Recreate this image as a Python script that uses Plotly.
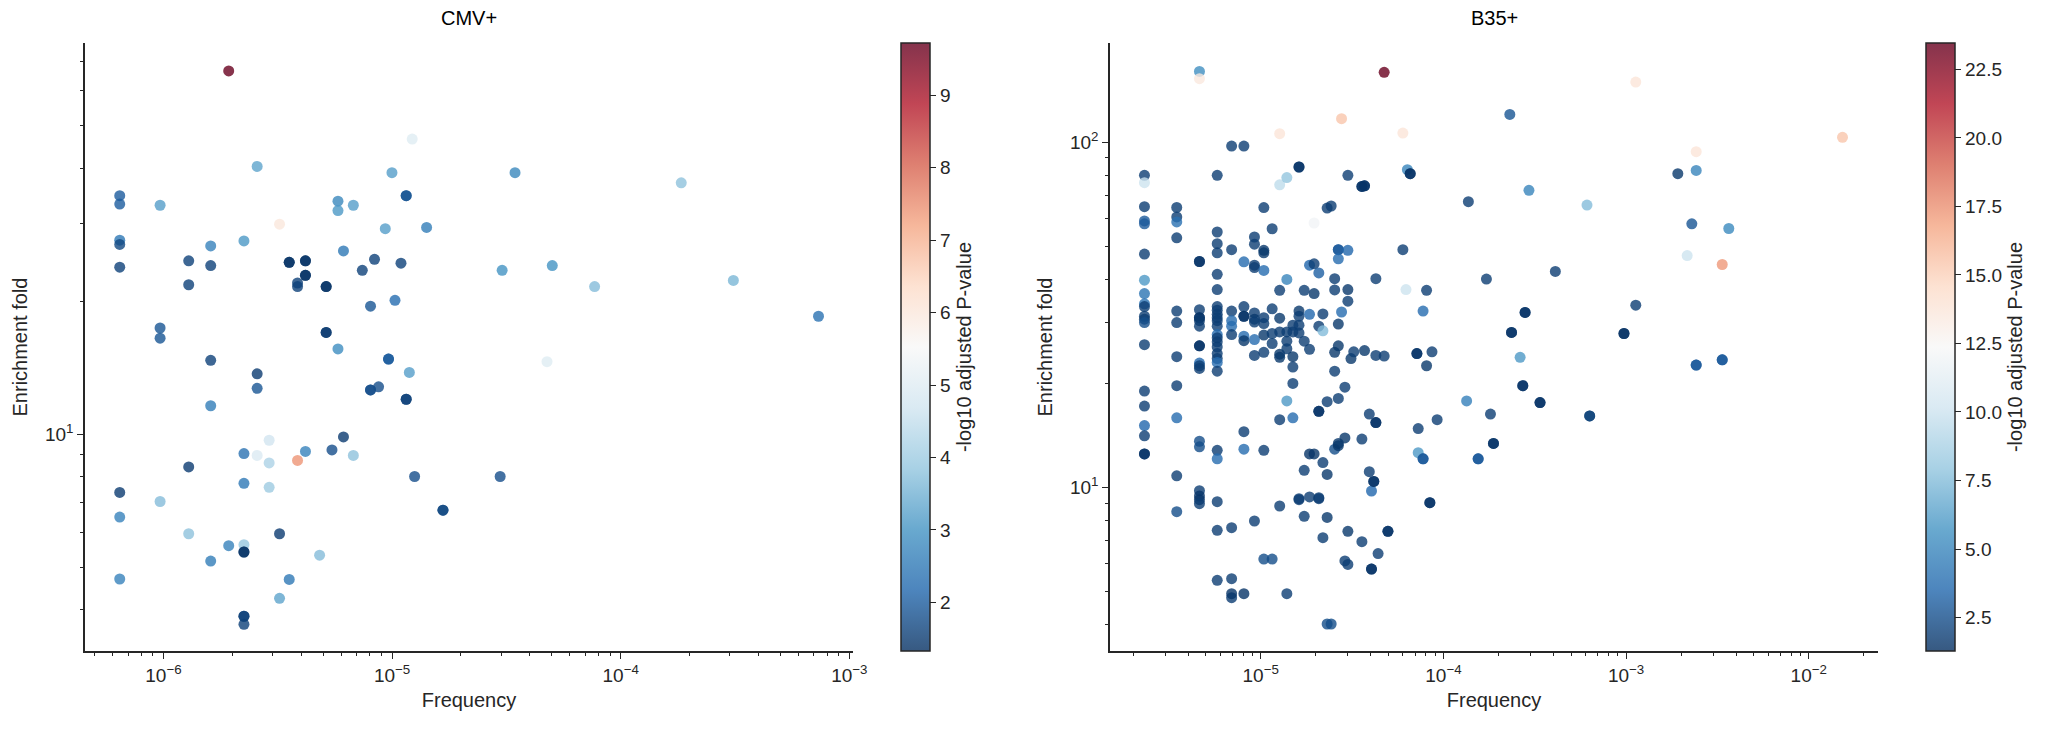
import plotly.graph_objects as go

# ---------------- CMV+ panel data ----------------
cmv_freq = [
    1.93e-6, 1.225e-5, 2.57e-6, 9.99e-6, 6.44e-7, 6.44e-7, 9.67e-7, 1.153e-5, 1.153e-5, 5.80e-6,
    5.80e-6, 6.77e-6, 3.22e-6, 9.34e-6, 1.416e-5, 6.44e-7, 6.44e-7, 2.25e-6, 1.61e-6, 6.13e-6,
    6.44e-7, 1.29e-6, 1.61e-6, 3.55e-6, 3.55e-6, 4.18e-6, 4.18e-6, 4.18e-6, 4.18e-6, 8.38e-6,
    7.41e-6, 1.094e-5, 1.29e-6, 3.86e-6, 3.86e-6, 5.15e-6, 5.15e-6, 8.05e-6, 1.03e-5, 9.67e-7,
    9.67e-7, 5.15e-6, 5.15e-6, 5.80e-6, 9.65e-6, 9.65e-6, 1.61e-6, 2.57e-6, 1.19e-5, 3.45e-5,
    1.84e-4, 3.03e-5, 5.02e-5, 7.69e-5, 3.11e-4, 7.33e-4, 4.76e-5, 2.57e-6, 1.61e-6, 8.05e-6,
    8.05e-6, 8.73e-6, 1.153e-5, 1.153e-5, 6.13e-6, 2.90e-6, 4.18e-6, 5.46e-6, 2.25e-6, 2.57e-6,
    3.86e-6, 6.77e-6, 2.90e-6, 1.29e-6, 1.255e-5, 2.25e-6, 2.90e-6, 6.44e-7, 9.67e-7, 1.67e-5,
    1.67e-5, 6.44e-7, 1.29e-6, 3.22e-6, 1.93e-6, 2.25e-6, 2.25e-6, 2.25e-6, 1.61e-6, 4.82e-6,
    6.44e-7, 3.55e-6, 3.22e-6, 2.25e-6, 2.25e-6, 2.25e-6, 2.97e-5,
]
cmv_fold = [
    66.5, 46.6, 40.4, 39.1, 34.7, 33.2, 33.0, 34.7, 34.7, 33.7,
    32.1, 33.0, 29.9, 29.2, 29.4, 27.5, 26.9, 27.4, 26.7, 26.0,
    23.9, 24.7, 24.1, 24.5, 24.5, 24.7, 24.7, 22.9, 22.9, 24.9,
    23.5, 24.4, 21.8, 22.0, 21.6, 21.6, 21.6, 19.5, 20.1, 17.4,
    16.5, 17.0, 17.0, 15.6, 14.8, 14.8, 14.7, 13.7, 13.8, 39.1,
    37.1, 23.5, 24.1, 21.6, 22.3, 18.5, 14.6, 12.7, 11.6, 12.6,
    12.6, 12.8, 12.0, 12.0, 9.86, 9.69, 9.14, 9.21, 9.04, 8.95,
    8.72, 8.95, 8.61, 8.43, 8.02, 7.74, 7.58, 7.38, 7.04, 6.73,
    6.73, 6.49, 5.95, 5.95, 5.59, 5.62, 5.41, 5.41, 5.16, 5.32,
    4.70, 4.69, 4.25, 3.87, 3.87, 3.71, 8.02,
]
cmv_logp = [
    9.7, 5.0, 3.3, 3.2, 2.0, 2.0, 3.2, 1.9, 1.9, 2.8,
    3.1, 3.2, 6.0, 3.2, 2.6, 2.5, 1.7, 3.1, 2.7, 2.5,
    1.6, 1.6, 1.6, 1.4, 1.4, 1.4, 1.4, 1.4, 1.4, 1.6,
    1.6, 1.6, 1.6, 1.6, 1.6, 1.4, 1.4, 1.9, 2.3, 1.9,
    1.9, 1.5, 1.5, 2.9, 2.0, 2.0, 1.6, 1.5, 3.2, 2.8,
    3.8, 3.0, 3.0, 3.7, 3.6, 2.4, 5.0, 1.9, 2.6, 1.8,
    1.8, 1.8, 1.6, 1.6, 1.5, 4.7, 2.7, 1.8, 2.4, 4.9,
    7.4, 3.8, 4.2, 1.5, 1.8, 2.5, 4.0, 1.5, 3.7, 1.7,
    1.7, 2.7, 3.8, 1.5, 2.7, 3.9, 1.4, 1.4, 2.6, 3.7,
    2.7, 2.5, 3.3, 1.6, 1.6, 1.6, 1.8,
]

# ---------------- B35+ panel data ----------------
b35_freq = (
    [2.31e-6] * 20
    + [3.47e-6] * 11
    + [4.62e-6] * 20
    + [5.78e-6] * 25
    + [6.93e-6] * 10
    + [8.09e-6] * 10
    + [9.24e-6] * 10
    + [1.04e-5] * 10
    + [1.155e-5] * 5
    + [1.27e-5] * 9
    + [1.39e-5] * 7
    + [1.50e-5] * 6
    + [1.62e-5] * 8
    + [1.73e-5] * 4
    + [1.85e-5] * 5
    + [1.96e-5] * 4
    + [2.08e-5] * 6
    + [2.19e-5] * 4
    + [2.31e-5] * 5
    + [2.43e-5] * 2
    + [2.54e-5] * 5
    + [2.66e-5] * 8
    + [2.77e-5] * 2
    + [2.89e-5] * 3
    + [3.00e-5] * 6
    + [3.12e-5, 3.23e-5]
    + [3.58e-5] * 4
    + [3.70e-5] * 3
    + [3.93e-5] * 2
    + [4.04e-5] * 3
    + [4.16e-5] * 2
    + [4.27e-5] * 4
    + [4.39e-5]
    + [4.74e-5] * 2
    + [4.97e-5] * 2
    + [6.00e-5, 6.00e-5, 6.24e-5, 6.35e-5, 6.58e-5, 6.58e-5, 7.16e-5, 7.16e-5, 7.28e-5, 7.28e-5,
       7.74e-5, 7.74e-5, 7.74e-5, 8.09e-5, 8.09e-5, 8.43e-5, 8.43e-5, 8.66e-5, 9.24e-5,
       1.34e-4, 1.37e-4, 1.55e-4, 1.55e-4, 1.72e-4, 1.81e-4, 1.88e-4, 1.88e-4,
       2.31e-4, 2.36e-4, 2.36e-4, 2.63e-4, 2.72e-4, 2.72e-4, 2.80e-4, 2.80e-4, 2.94e-4,
       3.38e-4, 3.38e-4, 4.10e-4, 6.11e-4, 6.32e-4, 6.32e-4, 9.74e-4, 9.74e-4,
       1.13e-3, 1.13e-3, 1.92e-3, 2.16e-3, 2.29e-3, 2.42e-3, 2.42e-3, 2.42e-3, 2.42e-3,
       3.36e-3, 3.36e-3, 3.36e-3, 3.65e-3, 1.53e-2]
)
b35_fold = [
    80.1, 76.3, 65.0, 59.1, 58.0, 47.4, 39.8, 36.4, 34.0, 33.4,
    31.3, 30.7, 30.0, 25.9, 19.0, 17.2, 15.1, 14.1, 12.5, 12.5,
    8.50, 64.7, 60.7, 58.7, 52.8, 32.4, 30.0, 23.9, 19.7, 15.9, 10.8,
    9.78, 160.2, 152.6, 45.1, 45.1, 32.7, 31.0, 31.0, 30.4, 29.3,
    25.7, 25.7, 22.9, 22.5, 22.1, 13.6, 13.1, 9.44, 9.21, 8.97,
    5.38, 80.1, 54.9, 50.8, 47.8, 41.4, 37.4, 33.4, 32.6, 31.7,
    31.0, 30.4, 29.3, 27.7, 27.1, 26.4, 25.5, 24.4, 23.6, 23.0,
    21.7, 12.8, 12.1, 9.09, 7.51,
    4.79, 97.4, 48.8, 32.4, 30.4, 29.3, 27.7, 7.64, 5.44, 4.92,
    4.92, 97.4, 45.0, 33.4, 31.3, 31.3, 27.4, 26.6, 14.5, 12.9,
    7.99, 53.1, 50.6, 44.0, 43.3, 32.0, 30.7, 30.1, 26.8, 24.1,
    12.8, 64.6, 48.6, 47.8, 42.5, 31.0, 29.8, 27.6, 24.6, 6.20,
    6.20, 56.1, 32.9, 27.9, 26.1,
    15.7, 105.8, 75.2, 37.2, 30.9, 28.2, 24.3, 23.8, 8.83,
    4.92, 78.9, 40.0, 28.2, 26.5, 25.2, 17.8,
    15.9, 29.5, 28.2, 23.9, 22.3, 20.0,
    9.27, 84.7, 84.7, 32.4, 31.3, 29.5, 28.0, 9.21,
    8.24, 37.2, 26.5, 11.2,
    9.38, 44.0, 31.7, 25.1, 12.5,
    12.5, 58.3, 44.4, 36.4,
    9.27, 41.8, 29.3, 16.6, 16.6, 9.33,
    7.15, 31.8, 28.4, 11.8,
    8.18, 64.4, 17.7, 10.9, 4.02,
    4.02, 65.3,
    12.9, 40.2, 37.3, 24.6, 21.7,
    13.2, 48.8, 48.8, 45.9, 29.7, 25.7, 18.1, 13.4,
    116.9, 32.2,
    19.5, 13.9, 6.12,
    80.1, 48.6, 37.4, 34.6, 7.46, 5.98,
    23.6, 24.7,
    74.4, 74.4, 13.8, 6.96,
    74.7, 74.7, 24.9,
    16.3, 11.1,
    9.76, 5.80, 5.80,
    10.4, 10.4,
    40.2, 24.1, 15.4, 15.4,
    6.43,
    159.2, 24.0,
    7.46, 7.46,
    106.2, 48.8, 37.4, 83.2, 81.0, 81.0, 24.4, 24.4, 14.8, 12.6,
    32.4, 12.1, 12.1, 37.2, 22.5, 9.03, 9.03, 24.7, 15.7,
    17.8, 67.2, 12.1, 12.1, 40.1, 16.3, 13.4, 13.4,
    120.3, 28.1, 28.1, 23.8, 19.7, 19.7, 32.1, 32.1, 72.5,
    17.6, 17.6, 42.2, 65.7, 16.1, 16.1, 27.9, 27.9,
    149.2, 33.7, 81.0, 46.9, 58.0, 93.8, 82.8, 22.6, 22.6,
    44.2, 23.4, 23.4, 56.2, 103.2,
]
b35_logp = [
    1.8, 10.0, 1.8, 3.0, 3.0, 1.8, 6.0, 4.2, 4.0, 1.8,
    1.8, 1.8, 2.5, 1.8, 1.8, 1.8, 3.5, 1.8, 1.5, 1.5,
    2.5, 1.8, 1.8, 4.0, 1.8, 1.8, 1.8, 1.8, 1.8, 3.8, 1.8,
    1.8, 5.5, 13.5, 1.5, 1.5, 1.8, 1.5, 1.5, 1.6, 1.8,
    1.5, 1.5, 3.5, 1.8, 1.8, 2.5, 2.5, 1.5, 1.5, 1.8,
    1.8, 1.8, 1.8, 1.8, 1.8, 1.8, 1.8, 1.8, 1.8, 1.8,
    1.8, 1.8, 1.8, 3.8, 1.8, 1.8, 1.8, 1.8, 1.8, 3.8,
    1.8, 1.8, 3.8, 1.8, 1.8,
    1.8, 1.8, 1.8, 1.8, 3.8, 3.8, 1.8, 1.8, 1.8, 1.5,
    1.5, 1.8, 3.8, 1.8, 1.5, 1.5, 3.8, 1.6, 1.8, 3.8,
    1.8, 1.8, 1.8, 1.8, 1.8, 1.8, 1.6, 1.8, 3.8, 1.8,
    1.8, 1.8, 1.6, 1.6, 3.8, 1.8, 1.8, 1.6, 1.8, 2.5,
    2.5, 1.8, 1.8, 1.8, 1.8,
    1.8, 13.8, 9.5, 1.8, 1.6, 1.8, 1.6, 1.6, 1.8,
    1.8, 8.0, 5.0, 1.8, 1.8, 1.8, 6.0,
    3.8, 1.8, 1.8, 1.6, 1.8, 1.8,
    1.8, 1.5, 1.5, 1.6, 1.8, 1.8, 1.8, 1.8,
    1.8, 1.8, 1.8, 1.8,
    1.8, 3.5, 3.5, 1.8, 1.5,
    1.5, 12.0, 1.8, 1.6,
    1.8, 3.2, 1.8, 1.5, 1.5, 1.8,
    1.8, 1.8, 7.5, 1.8,
    1.6, 1.8, 1.8, 1.6, 2.5,
    2.5, 1.8,
    2.5, 1.8, 1.8, 1.6, 1.8,
    1.6, 3.0, 3.0, 3.8, 1.6, 1.6, 1.8, 1.6,
    15.5, 3.8,
    1.8, 1.6, 1.8,
    1.8, 3.5, 1.6, 1.8, 1.6, 1.8,
    1.6, 1.8,
    1.5, 1.5, 1.8, 1.8,
    1.5, 1.5, 1.6,
    1.8, 1.8,
    3.5, 1.5, 1.5,
    1.5, 1.5,
    1.8, 1.8, 1.5, 1.5,
    1.8,
    23.4, 1.8,
    1.5, 1.5,
    13.8, 1.8, 10.0, 5.0, 1.5, 1.5, 1.5, 1.5, 1.8, 6.0,
    3.8, 3.0, 3.0, 1.8, 1.6, 1.5, 1.5, 1.8, 1.8,
    4.8, 1.8, 3.0, 3.0, 1.8, 1.8, 1.5, 1.5,
    2.8, 1.5, 1.5, 6.0, 1.5, 1.5, 1.5, 1.5, 5.0,
    1.5, 1.5, 1.8, 7.5, 2.0, 2.0, 1.4, 1.4,
    13.8, 1.8, 1.6, 10.0, 2.8, 13.8, 5.0, 3.0, 3.0,
    17.2, 3.0, 3.0, 5.2, 15.5,
]

# axis tick exponents (decades shown on each axis)
cmv_x_exps = [-6, -5, -4, -3]
cmv_y_exps = [1]
b35_x_exps = [-5, -4, -3, -2]
b35_y_exps = [1, 2]

# ---------------- styling ----------------
RDBU = ['#053061', '#2166ac', '#4393c3', '#92c5de', '#d1e5f0', '#f7f7f7',
        '#fddbc7', '#f4a582', '#d6604d', '#b2182b', '#67001f']


def fade(h, a=0.8):
    r, g, b = int(h[1:3], 16), int(h[3:5], 16), int(h[5:7], 16)
    return 'rgb(%d,%d,%d)' % tuple(round(a * c + (1 - a) * 255) for c in (r, g, b))


n = len(RDBU) - 1
scale_full = [[i / n, c] for i, c in enumerate(RDBU)]
scale_faded = [[i / n, fade(c)] for i, c in enumerate(RDBU)]

FONT = 'Liberation Sans, Arial, Helvetica, sans-serif'
INK = '#262626'

X1 = [85 / 2049, 853 / 2049]
X2 = [1110 / 2049, 1878 / 2049]

CMV_RANGE = (1.33, 9.72)
B35_RANGE = (1.28, 23.46)

fig = go.Figure()


def add_panel(freq, fold, logp, crange, xa, ya, cbx, cb_tick):
    fig.add_trace(go.Scatter(
        x=freq, y=fold, mode='markers', xaxis=xa, yaxis=ya, showlegend=False,
        marker=dict(color=logp, colorscale=scale_full, cmin=crange[0], cmax=crange[1],
                    size=11, opacity=0.8, line=dict(width=0), showscale=False),
    ))
    fig.add_trace(go.Scatter(
        x=[None], y=[None], mode='markers', xaxis=xa, yaxis=ya, showlegend=False,
        hoverinfo='skip',
        marker=dict(color=[crange[0]], colorscale=scale_faded, cmin=crange[0], cmax=crange[1],
                    showscale=True,
                    colorbar=dict(
                        x=cbx, xanchor='left', xpad=0, y=0.5, yanchor='middle', ypad=0,
                        len=1, lenmode='fraction', thickness=29, thicknessmode='pixels',
                        outlinewidth=1.5, outlinecolor=INK,
                        ticks='outside', ticklen=6, tickwidth=1.3, tickcolor=INK,
                        tickfont=dict(family=FONT, size=19, color=INK),
                        title=dict(text='-log10 adjusted P-value', side='right',
                                   font=dict(family=FONT, size=20, color=INK)),
                        **cb_tick,
                    )),
    ))


add_panel(cmv_freq, cmv_fold, cmv_logp, CMV_RANGE, 'x', 'y', 901 / 2049,
          dict(tickmode='array', tickvals=[2, 3, 4, 5, 6, 7, 8, 9]))
add_panel(b35_freq, b35_fold, b35_logp, B35_RANGE, 'x2', 'y2', 1926 / 2049,
          dict(tickmode='linear', tick0=2.5, dtick=2.5, tickformat='.1f'))


def log_axis(exps, rng, domain, anchor, title, standoff):
    lo, hi = int(rng[0]) - 2, int(rng[1]) + 2
    minor_vals = [k * 10.0 ** e for e in range(lo, hi) for k in range(2, 10)]
    return dict(
        type='log', domain=domain, range=rng, anchor=anchor,
        showgrid=False, zeroline=False, showline=True, linecolor=INK, linewidth=1.5,
        ticks='outside', ticklen=6, tickwidth=1.3, tickcolor=INK,
        tickmode='array', tickvals=[10.0 ** e for e in exps],
        ticktext=['10<sup>%s</sup>' % (str(e).replace('-', '\u2212')) for e in exps],
        tickfont=dict(family=FONT, size=19, color=INK),
        minor=dict(ticks='outside', ticklen=3.5, tickwidth=1, tickcolor=INK,
                   tickmode='array', tickvals=minor_vals, showgrid=False),
        automargin=False,
        title=dict(text=title, font=dict(size=20, family=FONT, color=INK), standoff=standoff),
    )


fig.update_layout(
    width=2049, height=735,
    margin=dict(l=0, r=0, t=43, b=84),
    paper_bgcolor='white', plot_bgcolor='white',
    font=dict(family=FONT, color=INK),
    xaxis=log_axis(cmv_x_exps, [-6.343, -2.984], X1, 'y', 'Frequency', 8),
    yaxis=log_axis(cmv_y_exps, [0.509, 1.886], [0, 1], 'x', 'Enrichment fold', 12),
    xaxis2=log_axis(b35_x_exps, [-5.825, -1.621], X2, 'y2', 'Frequency', 8),
    yaxis2=log_axis(b35_y_exps, [0.526, 2.287], [0, 1], 'x2', 'Enrichment fold', 12),
    annotations=[
        dict(text='CMV+', x=sum(X1) / 2, y=1, xref='paper', yref='paper', xanchor='center',
             yanchor='bottom', yshift=12, showarrow=False, font=dict(family=FONT, size=20, color='black')),
        dict(text='B35+', x=sum(X2) / 2, y=1, xref='paper', yref='paper', xanchor='center',
             yanchor='bottom', yshift=12, showarrow=False, font=dict(family=FONT, size=20, color='black')),
    ],
)

fig.write_html('out.html')
